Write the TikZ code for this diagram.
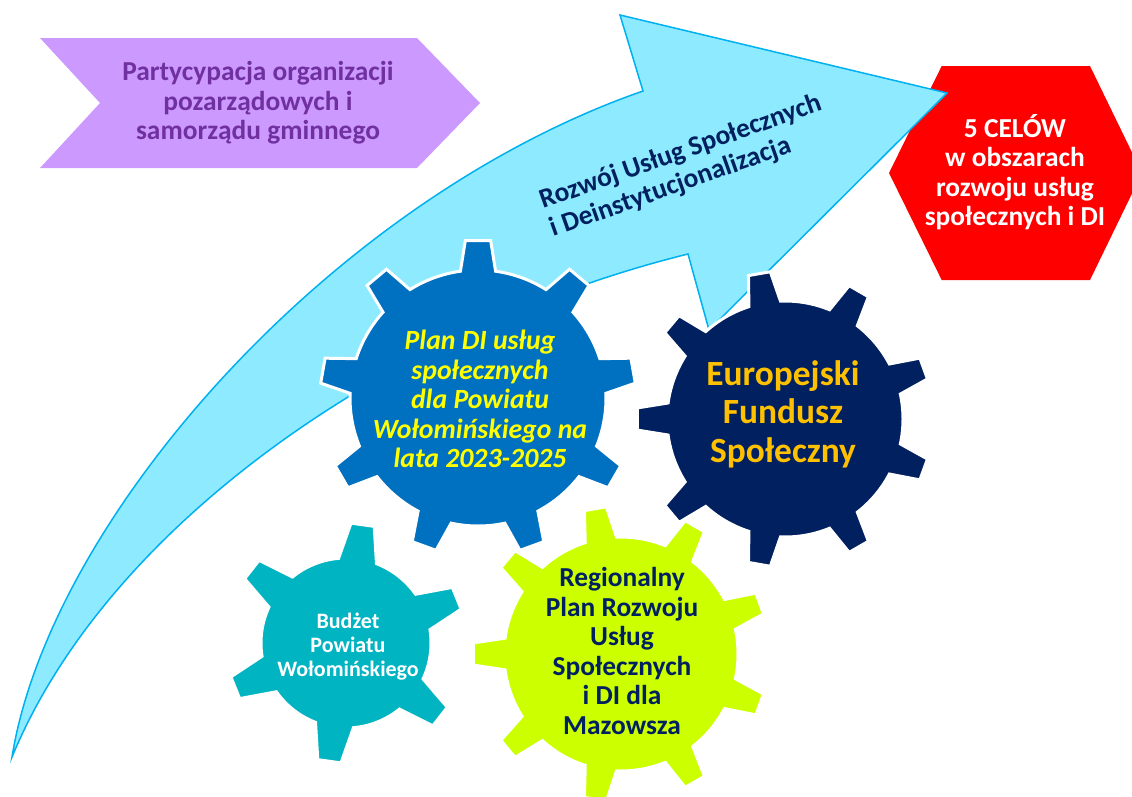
\documentclass[tikz,border=0pt]{standalone}
\usepackage{fontspec}
\setmainfont{Carlito}
\definecolor{arrowfill}{RGB}{142,235,255}
\definecolor{arrowline}{RGB}{0,176,240}
\definecolor{chevfill}{RGB}{204,153,255}
\definecolor{chevtext}{RGB}{112,48,160}
\definecolor{hexred}{RGB}{255,0,0}
\definecolor{gearblue}{RGB}{0,112,192}
\definecolor{gearnavy}{RGB}{0,32,96}
\definecolor{gearteal}{RGB}{0,180,194}
\definecolor{gearlime}{RGB}{204,255,0}
\definecolor{txtyellow}{RGB}{255,255,0}
\definecolor{txtgold}{RGB}{255,192,0}
\definecolor{txtnavy}{RGB}{0,32,96}
% #1 centre, #2 teeth, #3 rotation (frame angle), #4 body radius, #5 tip radius,
% #6 tip half angle, #7 base half angle, #8 fill colour
\newcommand{\mygear}[8]{%
  \begin{scope}[shift={(#1)}]
    \pgfmathsetmacro{\gstep}{360/#2}
    \path[gearstyle, fill=#8] (#3-#7:#4)
      \foreach \k in {1,...,#2}{
        -- ({#3+(\k-1)*\gstep-#6}:#5) -- ({#3+(\k-1)*\gstep+#6}:#5)
        -- ({#3+(\k-1)*\gstep+#7}:#4)
        arc[start angle={#3+(\k-1)*\gstep+#7}, end angle={#3+\k*\gstep-#7}, radius=#4]
      } -- cycle;
  \end{scope}}
\tikzset{
  gearstyle/.style={draw=white, line width=3pt, line join=miter},
  txt/.style={font=\bfseries\fontsize{27.4}{29.5}\selectfont, align=center, inner sep=0pt},
  rottxt/.style={txt, text=txtnavy, anchor=base west, rotate=19.5},
}
\begin{document}
\begin{tikzpicture}[x=1pt,y=-1pt]
\useasboundingbox (0,0) rectangle (1132,796);
\clip (0,0) rectangle (1132,796);
% red hexagon
\fill[hexred] (941.7,66) -- (1090,66) -- (1142,173) -- (1090,280) -- (941.7,280) -- (889,173) -- cycle;
% big curved arrow
\path[fill=arrowfill, draw=arrowline, line width=1.5pt, line join=miter]
  (12,757) .. controls (50,520) and (330,200) .. (643,91)
  -- (620,15) -- (947,93) -- (709,330) -- (688,254)
  .. controls (400,325) and (110,520) .. (12,757) -- cycle;
% purple chevron
\fill[chevfill] (40,38) -- (417,38) -- (480,103) -- (417,168) -- (40,168) -- (100,103) -- cycle;
% gears
\mygear{346,643}{6}{-22}{85}{120}{5.6}{13}{gearteal}
\mygear{478,398}{9}{-90}{128}{158}{4.6}{7.9}{gearblue}
\mygear{785,419}{9}{-20}{118}{148}{4.3}{7.8}{gearnavy}
\mygear{621,654}{9}{-20}{117}{148}{4.3}{7.8}{gearlime}
% texts
\node[txt, text=chevtext] (part) at (258,103) {Partycypacja organizacji\\pozarządowych i\\samorządu gminnego};
\node[txt, text=white] (cele) at (1015,172) {5 CELÓW\\w obszarach\\rozwoju usług\\społecznych i DI};
\node[rottxt] (rozwojA) at (543,209) {Rozwój Usług Społecznych};
\node[rottxt] (rozwojB) at (553,237) {i Deinstytucjonalizacja};
\node[txt, text=txtyellow, font=\bfseries\itshape\fontsize{27.8}{29.5}\selectfont] (plan) at (480,399) {Plan DI usług\\społecznych\\dla Powiatu\\Wołomińskiego na\\lata 2023-2025};
\node[txt, text=txtgold, font=\bfseries\fontsize{35.4}{38.5}\selectfont] (efs) at (783,414) {Europejski\\Fundusz\\Społeczny};
\node[txt, text=white, font=\bfseries\fontsize{22}{24}\selectfont] (budzet) at (348,647) {Budżet\\Powiatu\\Wołomińskiego};
\node[txt, text=txtnavy] (rpr) at (622,651) {Regionalny\\Plan Rozwoju\\Usług\\Społecznych\\i DI dla\\Mazowsza};
\end{tikzpicture}
\end{document}
